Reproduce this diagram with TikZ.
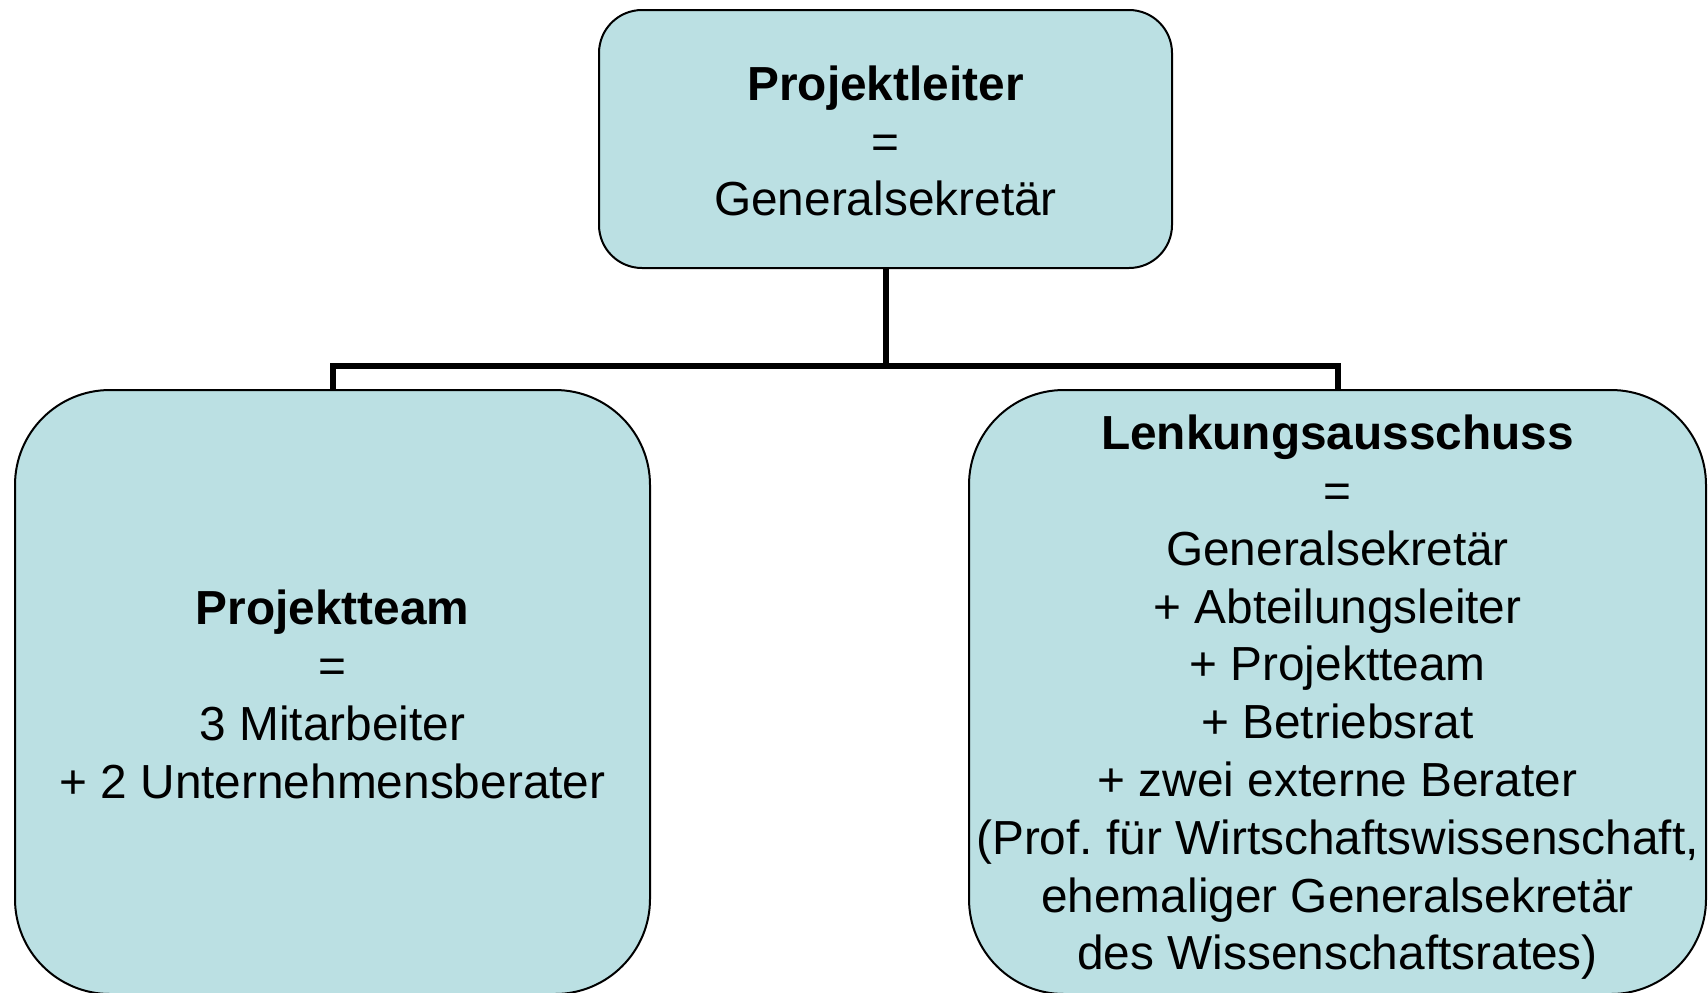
\documentclass[tikz,border=0pt]{standalone}
\usepackage{fontspec}
\setmainfont{Liberation Sans}
\definecolor{boxfill}{RGB}{187,224,227}
\tikzset{
  orgbox/.style={draw=black, line width=1pt, fill=boxfill, rectangle, inner sep=0pt},
  orgtext/.style={align=center, inner sep=0pt,
    font=\fontsize{23.9}{28.9}\selectfont\frenchspacing},
  conn/.style={draw=black, line width=3pt}
}
\begin{document}
\begin{tikzpicture}[x=0.5pt,y=-0.5pt]
  \fill[white] (0,0) rectangle (1708,992);
  \useasboundingbox (0,0) rectangle (1708,992);

  % head of the project
  \node[orgbox, rounded corners=21.5pt, minimum width=286.5pt, minimum height=129pt]
    (top) at (885.5,139) {};
  \node[orgtext] (topText) at ([yshift=-1pt]top.center)
    {\textbf{Projektleiter}\\=\\Generalsekretär};

  % project team
  \node[orgbox, rounded corners=47.5pt, minimum width=317.5pt, minimum height=302pt]
    (left) at (332.5,692) {};
  \node[orgtext] (leftText) at ([yshift=-1.1pt]left.center)
    {\textbf{Projektteam}\\=\\3 Mitarbeiter\\+ 2 Unternehmensberater};

  % steering committee
  \node[orgbox, rounded corners=47.5pt, minimum width=368.5pt, minimum height=302pt]
    (right) at (1337.5,692) {};
  \node[orgtext] (rightText) at ([yshift=-2.7pt]right.center)
    {\textbf{Lenkungsausschuss}\\=\\Generalsekretär\\+ Abteilungsleiter\\+ Projektteam\\+ Betriebsrat\\+ zwei externe Berater\\(Prof. für Wirtschaftswissenschaft,\\ehemaliger Generalsekretär\\des Wissenschaftsrates)};

  % connecting bus
  \coordinate (bus) at (885.5,366);
  \draw[conn] (top.south) -- (bus);
  \draw[conn] (left.north) |- (bus) -| (right.north);
\end{tikzpicture}
\end{document}
